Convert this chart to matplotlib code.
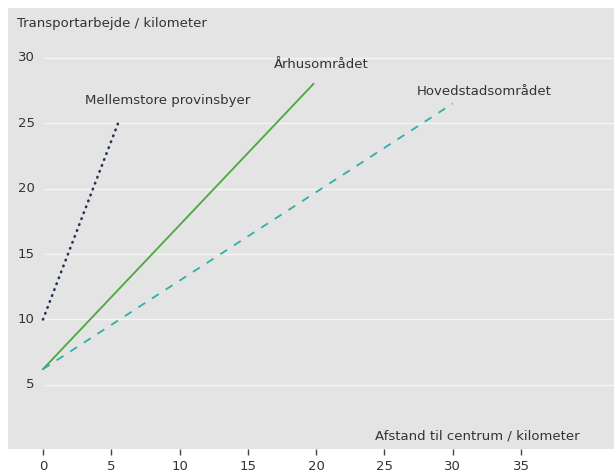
import numpy as np
import matplotlib.pyplot as plt

# data
x_ticks = [0, 5, 10, 15, 20, 25, 30, 35]
y_ticks = [5, 10, 15, 20, 25, 30]

mellem_x = [0, 5.5]
mellem_y = [10, 25]
aarhus_x = [0, 19.8]
aarhus_y = [6.2, 28.0]
hoved_x = [0, 30.0]
hoved_y = [6.2, 26.5]

fig = plt.figure(figsize=(6.14, 4.74), dpi=100)
ax = fig.add_axes([8 / 614, 25 / 474, 606 / 614, 441 / 474])
ax.set_facecolor("#e4e4e4")
for s in ax.spines.values():
    s.set_visible(False)

xmin, xmax = -2.56, 41.8
ax.set_xlim(xmin, xmax)
ax.set_ylim(0.1, 33.8)

# white gridlines
ax.hlines(y_ticks, 0.1, xmax, color="#f6f6f6", lw=1.0, zorder=1)

# series
ax.plot(mellem_x, mellem_y, color="#1f3352", lw=1.9, linestyle=(0, (0.2, 2.2)),
        dash_capstyle="round", zorder=3)
ax.plot(aarhus_x, aarhus_y, color="#4aa83c", lw=1.3, zorder=3)
ax.plot(hoved_x, hoved_y, color="#2fb0a6", lw=1.3, linestyle=(0, (4.5, 4.5)), zorder=3)

# series labels
txt = dict(fontsize=9.5, color="#333333")
ax.text(9.1, 26.7, "Mellemstore provinsbyer", ha="center", va="center", **txt)
ax.text(20.4, 29.5, "Århusområdet", ha="center", va="center", **txt)
ax.text(32.3, 27.4, "Hovedstadsområdet", ha="center", va="center", **txt)

# axis titles
ax.text(-1.9, 32.6, "Transportarbejde / kilometer", ha="left", va="center", **txt)
ax.text(24.3, 1.1, "Afstand til centrum / kilometer", ha="left", va="center", **txt)

# y tick labels inside the panel
ax.set_yticks([])
for v in y_ticks:
    ax.text(-0.6, v, str(v), ha="right", va="center", **txt)

ax.set_xticks(x_ticks)
ax.tick_params(axis="x", direction="out", length=4, width=1, color="#444444",
               pad=4, labelsize=9.5, labelcolor="#333333")

fig.savefig("out.png", dpi=100)
